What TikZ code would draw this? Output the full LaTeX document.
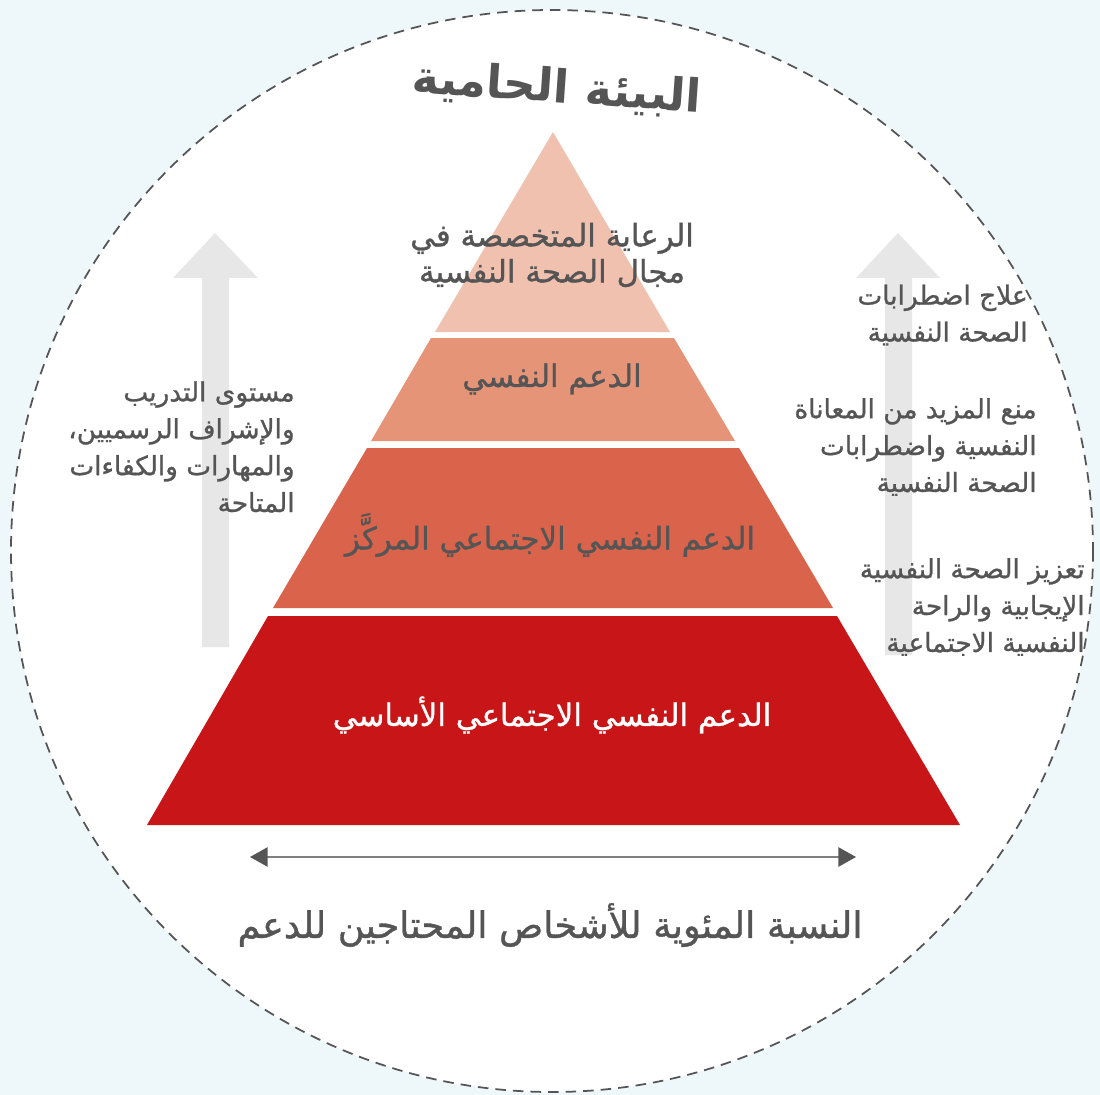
\documentclass[tikz,border=0pt]{standalone}
\usepackage{fontspec}
\usetikzlibrary{arrows.meta}
\newfontfamily\arabicfont[Script=Arabic, FakeBold=1]{DejaVu Sans}
\newfontfamily\arabicbold[Script=Arabic]{DejaVu Sans Bold}
\TeXXeTstate=1
\newcommand{\ar}[1]{\beginR #1\endR}
\definecolor{bgblue}{HTML}{EEF7FA}
\definecolor{txtgray}{HTML}{555555}
\definecolor{arrgray}{HTML}{E7E7E7}
\definecolor{layA}{HTML}{F0C1AE}
\definecolor{layB}{HTML}{E59478}
\definecolor{layC}{HTML}{DA644B}
\definecolor{layD}{HTML}{C81517}
\tikzset{
  lbl/.style={font=\arabicfont\fontsize{15}{21}\selectfont, text=txtgray, inner sep=0pt},
  side/.style={lbl, align=right, anchor=east},
  layer/.style={lbl, align=center, font=\arabicfont\fontsize{17.6}{20.5}\selectfont}
}

\begin{document}
\begin{tikzpicture}[x=0.02cm, y=-0.02cm]
\fill[bgblue] (0,0) rectangle (1100,1095);
\useasboundingbox (0,0) rectangle (1100,1095);
\filldraw[color=txtgray, fill=white, line width=1pt, dash pattern=on 6pt off 4pt] (552,551) circle (541);

\node[lbl, font=\arabicbold\fontsize{26}{32}\selectfont, rotate=-4] (title) at (557,89) {\ar{البيئة الحامية}};

% up arrows
\fill[arrgray] (202,647) -- (202,278) -- (173,278) -- (215,233) -- (258,278) -- (229,278) -- (229,647) -- cycle;
\fill[arrgray] (885,655) -- (885,278) -- (856,278) -- (898,233) -- (940,278) -- (912,278) -- (912,655) -- cycle;

% pyramid
\fill[layA] (553,132) -- (670,332) -- (435,332) -- cycle;
\fill[layB] (431,338) -- (674,338) -- (735,441) -- (371,441) -- cycle;
\fill[layC] (367,448) -- (739,448) -- (833,608) -- (273,608) -- cycle;
\fill[layD] (268,616) -- (837,616) -- (960,825) -- (147,825) -- cycle;

\node[layer] (care) at (552,255) {\ar{الرعاية المتخصصة في}\\\ar{مجال الصحة النفسية}};
\node[layer] (psy) at (552,379) {\ar{الدعم النفسي}};
\node[layer] (focus) at (550,535) {\ar{الدعم النفسي الاجتماعي المركَّز}};
\node[layer, text=white] (basic) at (552,715) {\ar{الدعم النفسي الاجتماعي الأساسي}};

\node[side] (skills) at (295,447) {\ar{مستوى التدريب}\\\ar{والإشراف الرسميين،}\\\ar{والمهارات والكفاءات}\\\ar{المتاحة}};
\node[side] (treat) at (1028,315) {\ar{علاج اضطرابات}\\\ar{الصحة النفسية}};
\node[side] (prevent) at (1037,447) {\ar{منع المزيد من المعاناة}\\\ar{النفسية واضطرابات}\\\ar{الصحة النفسية}};
\node[side] (promote) at (1085,607) {\ar{تعزيز الصحة النفسية}\\\ar{الإيجابية والراحة}\\\ar{النفسية الاجتماعية}};

\coordinate (wl) at (250,857);
\coordinate (wr) at (856,857);
\draw[color=gray, thick, {Triangle[length=10pt,width=11pt,color=txtgray]}-{Triangle[length=10pt,width=11pt,color=txtgray]}] (wl) -- (wr);
\node[lbl, font=\arabicfont\fontsize{20.8}{25}\selectfont] (share) at (550,925) {\ar{النسبة المئوية للأشخاص المحتاجين للدعم}};
\end{tikzpicture}
\end{document}
